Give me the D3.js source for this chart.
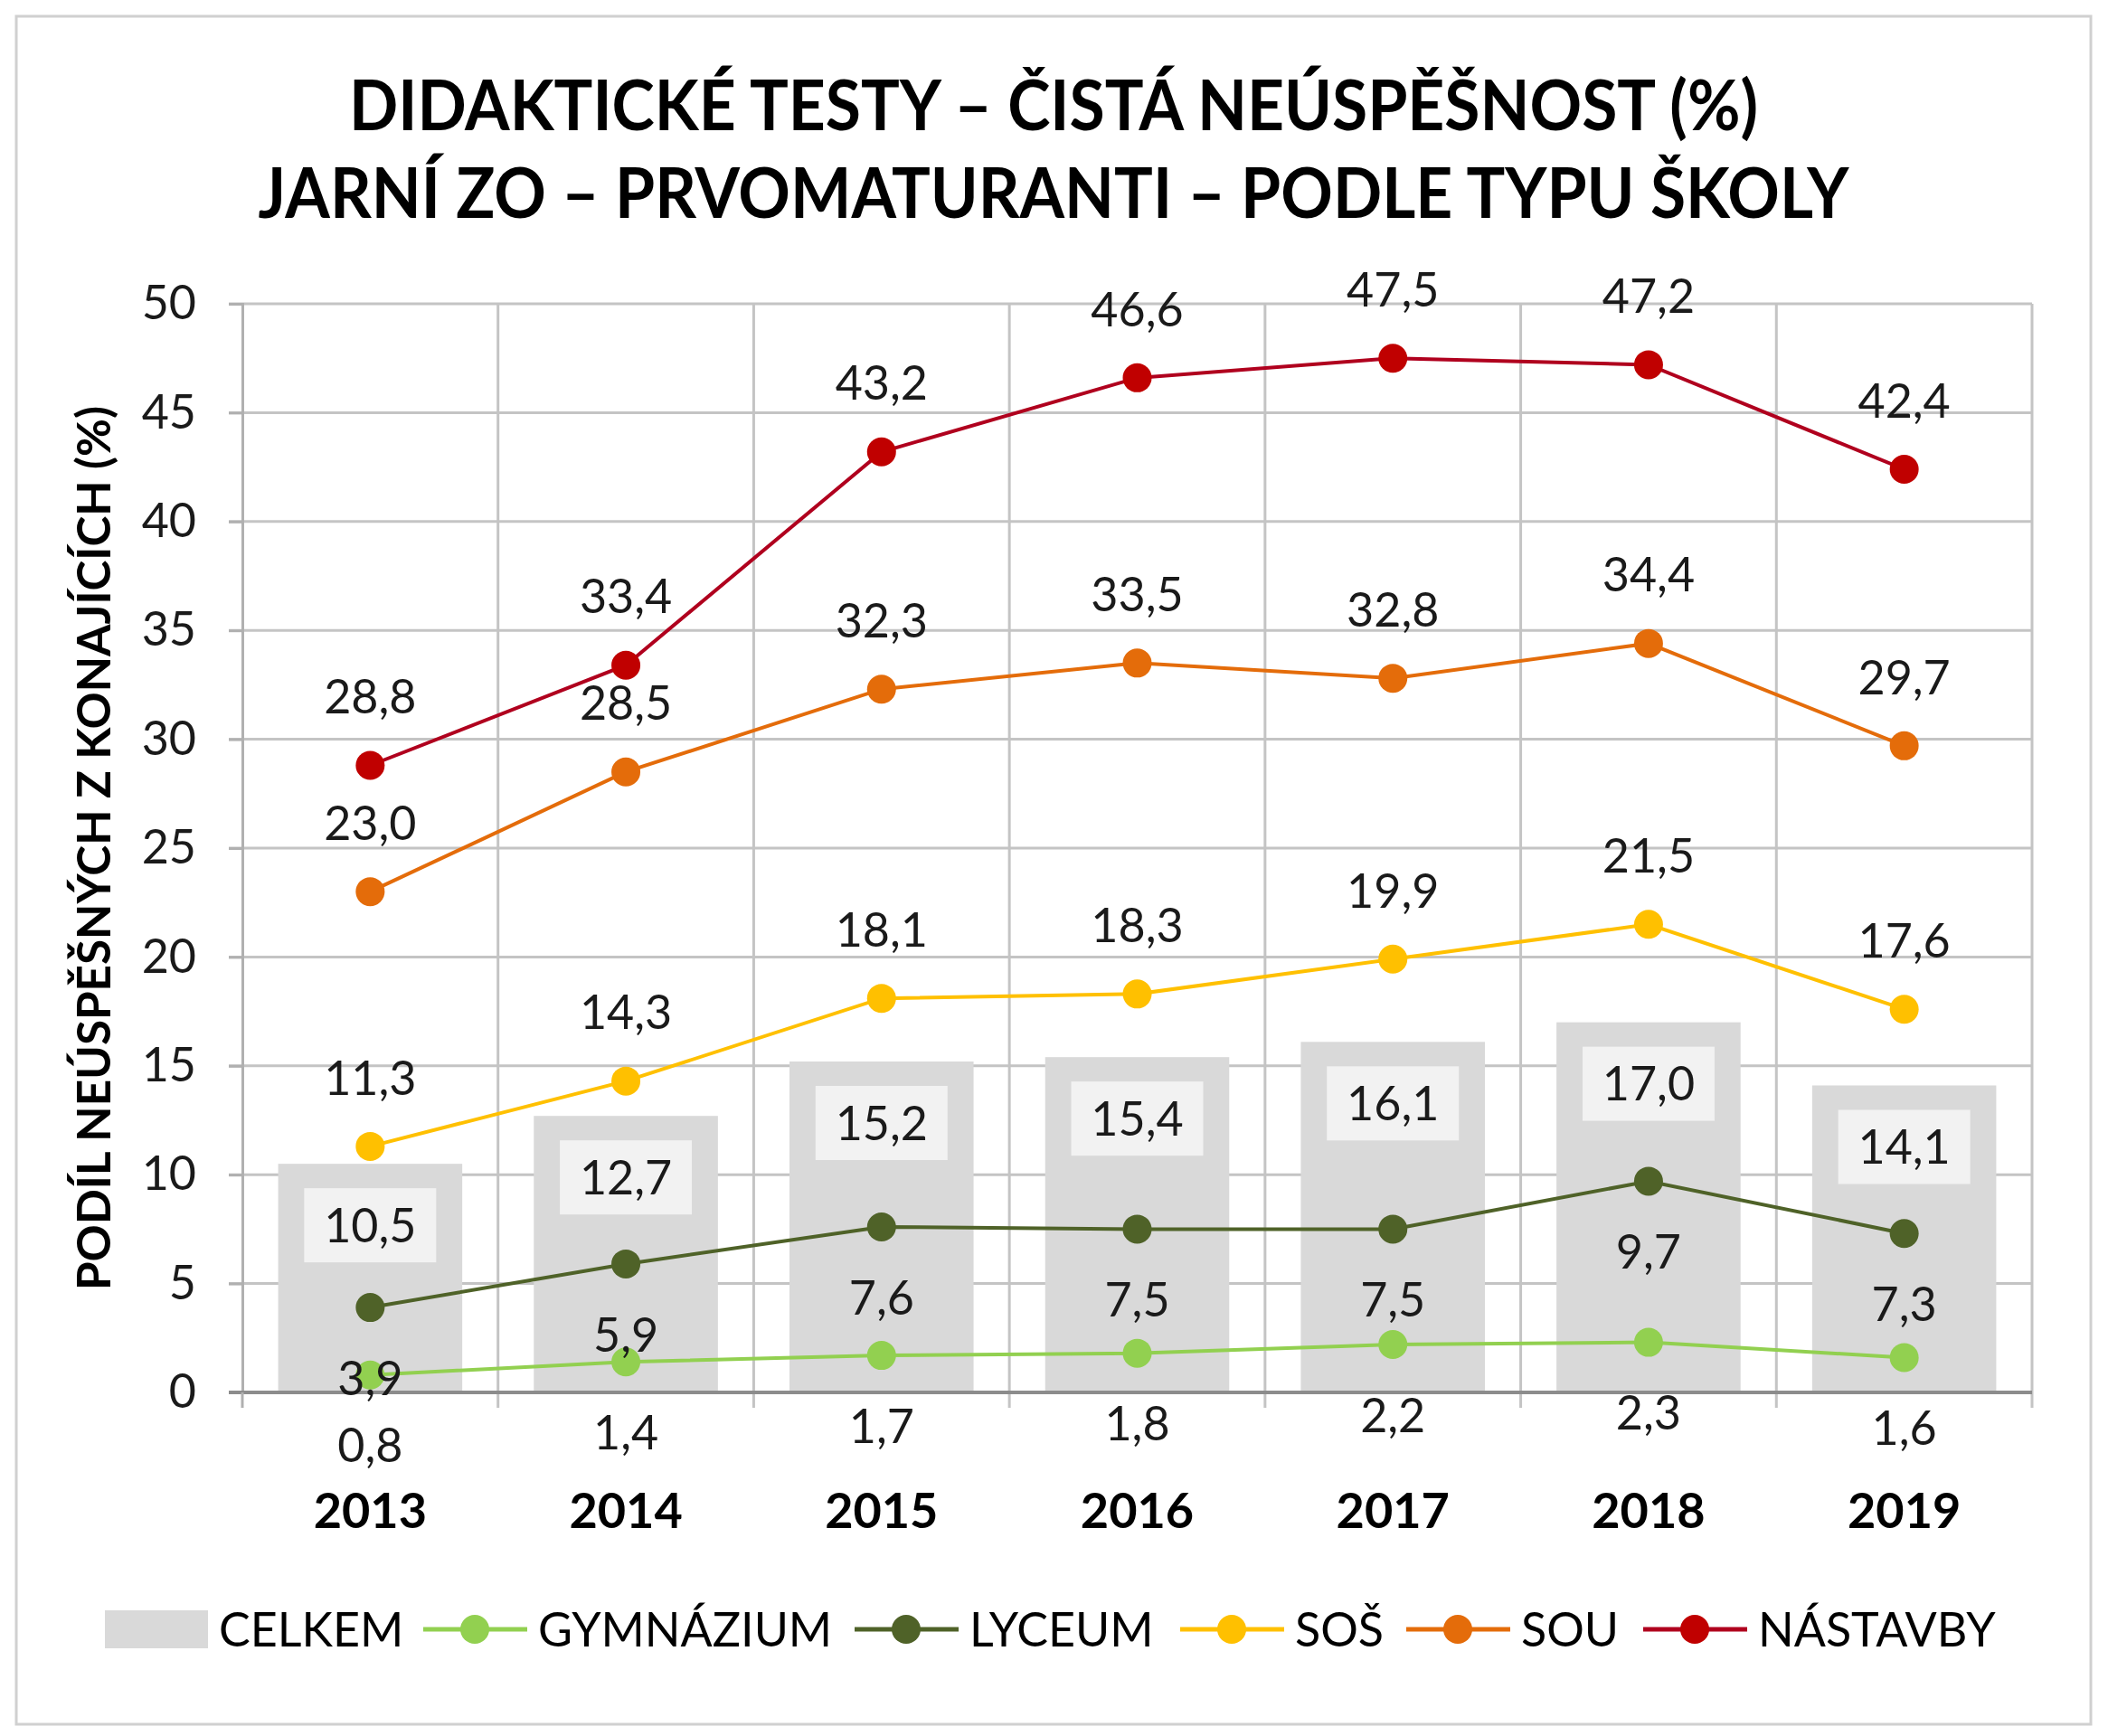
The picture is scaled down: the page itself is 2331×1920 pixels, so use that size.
<!DOCTYPE html>
<html>
<head>
<meta charset="utf-8">
<script src="https://cdn.jsdelivr.net/npm/d3@7"></script>
<style>
  body { margin: 0; background: #fff; }
  text { font-family: Lato, "Open Sans", sans-serif; }
</style>
</head>
<body>
<div class="chart"></div>
<script>
// data
const years = ["2013", "2014", "2015", "2016", "2017", "2018", "2019"];
const celkem = [10.5, 12.7, 15.2, 15.4, 16.1, 17.0, 14.1];
const gymnazium = [0.8, 1.4, 1.7, 1.8, 2.2, 2.3, 1.6];
const lyceum = [3.9, 5.9, 7.6, 7.5, 7.5, 9.7, 7.3];
const sos = [11.3, 14.3, 18.1, 18.3, 19.9, 21.5, 17.6];
const sou = [23.0, 28.5, 32.3, 33.5, 32.8, 34.4, 29.7];
const nastavby = [28.8, 33.4, 43.2, 46.6, 47.5, 47.2, 42.4];
const yTicks = [0, 5, 10, 15, 20, 25, 30, 35, 40, 45, 50];

const series = [
    {name: "GYMNÁZIUM", values: gymnazium, color: "#92d050", line: "#92d050", below: true},
    {name: "LYCEUM", values: lyceum, color: "#4f6228", line: "#4f6228", below: true},
    {name: "SOŠ", values: sos, color: "#ffc000", line: "#ffc000", below: false},
    {name: "SOU", values: sou, color: "#e46c0a", line: "#e46c0a", below: false},
    {name: "NÁSTAVBY", values: nastavby, color: "#c00000", line: "#b0001e", below: false}
];

const fmt = v => d3.format(".1f")(v).replace(".", ",");

const width = 2331, height = 1920;
const svg = d3.select(".chart")
    .append("svg")
    .attr("width", width)
    .attr("height", height);

// outer frame
svg.append("rect")
    .attr("x", 18).attr("y", 18)
    .attr("width", 2294).attr("height", 1889)
    .attr("fill", "#fff")
    .attr("stroke", "#d0d0d0")
    .attr("stroke-width", 3);

// title
svg.append("text")
    .text("DIDAKTICKÉ TESTY – ČISTÁ NEÚSPĚŠNOST (%)")
    .attr("x", 1165).attr("y", 144)
    .attr("text-anchor", "middle")
    .attr("font-size", 76).attr("font-weight", "bold")
    .attr("fill", "#000")
    .attr("textLength", 1558).attr("lengthAdjust", "spacingAndGlyphs");
svg.append("text")
    .text("JARNÍ ZO – PRVOMATURANTI – PODLE TYPU ŠKOLY")
    .attr("x", 1165).attr("y", 241)
    .attr("text-anchor", "middle")
    .attr("font-size", 76).attr("font-weight", "bold")
    .attr("fill", "#000")
    .attr("textLength", 1759).attr("lengthAdjust", "spacingAndGlyphs");

const plotLeft = 268, plotRight = 2247, plotTop = 336, plotBottom = 1540;

const xScale = d3.scaleBand()
    .domain(years)
    .range([plotLeft, plotRight])
    .padding(0);

const yScale = d3.scaleLinear()
    .domain([0, 50])
    .range([plotBottom, plotTop]);

const cx = d => xScale(d) + xScale.bandwidth() / 2;

// horizontal gridlines
svg.append("g")
    .selectAll("line")
    .data(yTicks.filter(t => t > 0))
    .join("line")
        .attr("x1", plotLeft - 15).attr("x2", plotRight)
        .attr("y1", d => yScale(d)).attr("y2", d => yScale(d))
        .attr("stroke", "#c4c4c4")
        .attr("stroke-width", 3);

// vertical gridlines at category boundaries
svg.append("g")
    .selectAll("line")
    .data(years)
    .join("line")
        .attr("x1", d => xScale(d) + xScale.step())
        .attr("x2", d => xScale(d) + xScale.step())
        .attr("y1", plotTop).attr("y2", plotBottom + 17)
        .attr("stroke", "#c4c4c4")
        .attr("stroke-width", 3);

// bars CELKEM
const barW = xScale.bandwidth() * 0.72;
svg.append("g")
    .selectAll("rect")
    .data(years)
    .join("rect")
        .attr("x", d => cx(d) - barW / 2)
        .attr("y", (d, i) => yScale(celkem[i]))
        .attr("width", barW)
        .attr("height", (d, i) => plotBottom - yScale(celkem[i]))
        .attr("fill", "#d9d9d9");

// y axis
const yAxis = d3.axisLeft(yScale)
    .tickValues(yTicks)
    .tickSize(15)
    .tickPadding(36)
    .tickFormat(d3.format("d"));

const yG = svg.append("g")
    .attr("transform", `translate(${plotLeft},0)`)
    .call(yAxis);
yG.select(".domain").attr("stroke", "#b0b0b0").attr("stroke-width", 3);
yG.selectAll(".tick line").attr("stroke", "#b0b0b0").attr("stroke-width", 3);
yG.selectAll(".tick text")
    .attr("font-size", 52)
    .attr("font-family", "Lato, sans-serif")
    .attr("fill", "#1a1a1a");

// zero line / x axis
svg.append("line")
    .attr("x1", plotLeft - 15).attr("x2", plotRight)
    .attr("y1", plotBottom).attr("y2", plotBottom)
    .attr("stroke", "#8c8c8c")
    .attr("stroke-width", 4);
svg.append("line")
    .attr("x1", plotLeft).attr("x2", plotLeft)
    .attr("y1", plotBottom).attr("y2", plotBottom + 17)
    .attr("stroke", "#b0b0b0")
    .attr("stroke-width", 3);

// year labels
svg.append("g")
    .selectAll("text")
    .data(years)
    .join("text")
        .text(d => d)
        .attr("x", d => cx(d))
        .attr("y", 1690)
        .attr("text-anchor", "middle")
        .attr("font-size", 54)
        .attr("font-weight", "bold")
        .attr("fill", "#000");

// y axis title
svg.append("text")
    .text("PODÍL NEÚSPĚŠNÝCH Z KONAJÍCÍCH (%)")
    .attr("transform", "translate(122,938) rotate(-90)")
    .attr("text-anchor", "middle")
    .attr("font-size", 52)
    .attr("font-weight", "bold")
    .attr("fill", "#000")
    .attr("textLength", 978).attr("lengthAdjust", "spacingAndGlyphs");

// lines and markers
const lineGenerator = (vals) => d3.line()
    .x((v, i) => cx(years[i]))
    .y(v => yScale(v))(vals);

series.forEach(s => {
    svg.append("path")
        .attr("d", lineGenerator(s.values))
        .attr("fill", "none")
        .attr("stroke", s.line)
        .attr("stroke-width", 4);
});
series.forEach(s => {
    svg.append("g")
        .selectAll("circle")
        .data(s.values)
        .join("circle")
            .attr("cx", (v, i) => cx(years[i]))
            .attr("cy", v => yScale(v))
            .attr("r", 16)
            .attr("fill", s.color);
});

// bar value labels with light box
const boxW = 146, boxH = 82;
const barLabels = svg.append("g");
years.forEach((y, i) => {
    const cy = yScale(celkem[i]) + 68;
    barLabels.append("rect")
        .attr("x", cx(y) - boxW / 2)
        .attr("y", cy - boxH / 2)
        .attr("width", boxW)
        .attr("height", boxH)
        .attr("fill", "#f2f2f2");
    barLabels.append("text")
        .text(fmt(celkem[i]))
        .attr("x", cx(y))
        .attr("y", cy)
        .attr("dy", "0.36em")
        .attr("text-anchor", "middle")
        .attr("font-size", 52)
        .attr("fill", "#1a1a1a");
});

// line value labels
series.forEach(s => {
    svg.append("g")
        .selectAll("text")
        .data(s.values)
        .join("text")
            .text(v => fmt(v))
            .attr("x", (v, i) => cx(years[i]))
            .attr("y", v => yScale(v) + (s.below ? 78 : -76))
            .attr("dy", "0.36em")
            .attr("text-anchor", "middle")
            .attr("font-size", 52)
            .attr("fill", "#1a1a1a");
});

// legend
const legendY = 1802;
const legend = svg.append("g");
legend.append("rect")
    .attr("x", 116).attr("y", legendY - 21)
    .attr("width", 114).attr("height", 42)
    .attr("fill", "#d9d9d9");
legend.append("text")
    .text("CELKEM")
    .attr("x", 242).attr("y", legendY)
    .attr("dy", "0.36em")
    .attr("font-size", 52)
    .attr("fill", "#000");

const legendX = [468, 945, 1305, 1555, 1817];
series.forEach((s, i) => {
    const x0 = legendX[i];
    legend.append("line")
        .attr("x1", x0).attr("x2", x0 + 115)
        .attr("y1", legendY).attr("y2", legendY)
        .attr("stroke", s.line)
        .attr("stroke-width", 5);
    legend.append("circle")
        .attr("cx", x0 + 57).attr("cy", legendY)
        .attr("r", 16)
        .attr("fill", s.color);
    legend.append("text")
        .text(s.name)
        .attr("x", x0 + 127).attr("y", legendY)
        .attr("dy", "0.36em")
        .attr("font-size", 52)
        .attr("fill", "#000");
});
</script>
</body>
</html>
